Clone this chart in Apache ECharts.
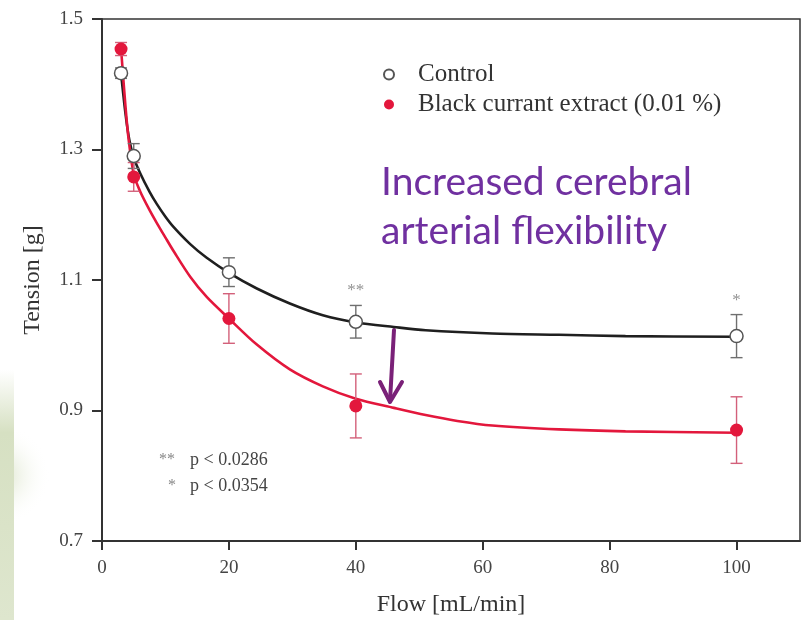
<!DOCTYPE html>
<html><head><meta charset="utf-8">
<script src="https://cdn.jsdelivr.net/npm/echarts@6/dist/echarts.min.js"></script>
<style>html,body{margin:0;padding:0;background:#fff}#c{width:804px;height:620px}</style>
</head><body><div id="c"></div>
<script>
// ---- data ----
const flow = [3, 5, 20, 40, 100];
const controlMean = [1.417, 1.290, 1.112, 1.036, 1.014];
const controlErr = [0.008, 0.019, 0.022, 0.025, 0.033];
const extractMean = [1.454, 1.258, 1.041, 0.907, 0.870];
const extractErr = [0.010, 0.022, 0.038, 0.049, 0.051];
const sigMarks = ['', '', '', '**', '*'];

const controlFitX = [3, 3.7, 4.3, 5, 6, 7.5, 8.6, 10, 11.3, 13.9, 16.5, 20, 24.4, 29.6, 34.8, 40, 46, 51, 61.5, 72, 82.5, 100];
const controlFitY = [1.417, 1.355, 1.315, 1.288, 1.264, 1.235, 1.217, 1.197, 1.181, 1.155, 1.134, 1.111, 1.087, 1.064, 1.046, 1.035, 1.028, 1.023, 1.018, 1.016, 1.014, 1.013];
const extractFitX = [3, 3.7, 4.2, 5, 6, 7.5, 8.6, 10, 11.3, 13.9, 16.5, 20, 24.4, 29.6, 34.8, 40, 46, 51, 56, 61.5, 72, 82.5, 100];
const extractFitY = [1.455, 1.366, 1.315, 1.262, 1.236, 1.207, 1.188, 1.165, 1.144, 1.105, 1.074, 1.041, 1.001, 0.963, 0.937, 0.918, 0.904, 0.893, 0.884, 0.877, 0.871, 0.868, 0.866];

const xTicks = [0, 20, 40, 60, 80, 100];
const yTicks = [0.7, 0.9, 1.1, 1.3, 1.5];

const nameControl = 'Control';
const nameExtract = 'Black currant extract (0.01 %)';
const noteLines = [['**', 'p < 0.0286'], ['*', 'p < 0.0354']];
const calloutLines = ['Increased cerebral', 'arterial flexibility'];

// ---- styles ----
const SERIF = '"Liberation Serif", "DejaVu Serif", serif';
const RED = '#e3173c';
const PURPLE = '#7030A0';

function errSeries(name, means, errs, color) {
  return {
    type: 'custom', name: name, silent: true, z: 3,
    data: flow.map((x, i) => [x, means[i] - errs[i], means[i] + errs[i]]),
    encode: { x: 0, y: [1, 2] },
    renderItem: function (params, api) {
      const x = api.value(0);
      const lo = api.coord([x, api.value(1)]);
      const hi = api.coord([x, api.value(2)]);
      const w = 6;
      const st = { stroke: color, lineWidth: 1.4 };
      return { type: 'group', children: [
        { type: 'line', shape: { x1: lo[0], y1: lo[1], x2: hi[0], y2: hi[1] }, style: st },
        { type: 'line', shape: { x1: lo[0] - w, y1: lo[1], x2: lo[0] + w, y2: lo[1] }, style: st },
        { type: 'line', shape: { x1: hi[0] - w, y1: hi[1], x2: hi[0] + w, y2: hi[1] }, style: st }
      ]};
    }
  };
}

const chart = echarts.init(document.getElementById('c'), null, { renderer: 'canvas' });

const graphics = [
  { type: 'rect', z: -10, shape: { x: 0, y: 370, width: 14, height: 250 },
    style: { fill: new echarts.graphic.LinearGradient(0, 0, 0, 1, [
      { offset: 0, color: 'rgba(214,224,194,0)' }, { offset: 0.25, color: 'rgba(214,224,194,1)' },
      { offset: 1, color: 'rgba(222,230,206,1)' }]) } },
  { type: 'circle', z: -11, shape: { cx: 0, cy: 475, r: 50 },
    style: { fill: new echarts.graphic.RadialGradient(0.5, 0.5, 0.5, [
      { offset: 0, color: 'rgba(214,224,194,0.9)' }, { offset: 1, color: 'rgba(255,255,255,0)' }]) } },
  // significance note
  { type: 'text', left: 159, top: 452, style: { text: noteLines[0][0], font: '16px ' + SERIF, fill: '#888' } },
  { type: 'text', left: 190, top: 451, style: { text: noteLines[0][1], font: '18px ' + SERIF, fill: '#444' } },
  { type: 'text', left: 168, top: 478, style: { text: noteLines[1][0], font: '16px ' + SERIF, fill: '#888' } },
  { type: 'text', left: 190, top: 477, style: { text: noteLines[1][1], font: '18px ' + SERIF, fill: '#444' } },
  // callout
  { type: 'text', left: 381, top: 163, style: { text: calloutLines[0], font: '39px Lato, "Open Sans", sans-serif', fill: PURPLE } },
  { type: 'text', left: 381, top: 212, style: { text: calloutLines[1], font: '39px Lato, "Open Sans", sans-serif', fill: PURPLE } },
  // arrow
  { type: 'group', z: 100, children: [
    { type: 'line', shape: { x1: 394, y1: 330, x2: 390, y2: 401 }, style: { stroke: '#7a2178', lineWidth: 4, lineCap: 'round' } },
    { type: 'polyline', shape: { points: [[380, 382], [390, 402], [402, 382]] }, style: { stroke: '#7a2178', lineWidth: 4, lineCap: 'round', lineJoin: 'round', fill: null } }
  ]}
];

chart.setOption({
  animation: false,
  backgroundColor: '#ffffff',
  grid: { left: 102, right: 4, top: 19, bottom: 79, outerBoundsMode: 'none', containLabel: false,
    show: true, borderColor: '#333', borderWidth: 1.5, backgroundColor: 'transparent' },
  legend: {
    data: [nameControl, nameExtract],
    orient: 'vertical', left: 378, top: 57,
    itemWidth: 48, itemHeight: 10, itemGap: 5,
    symbolKeepAspect: true,
    textStyle: { fontFamily: SERIF, fontSize: 25, color: '#333', lineHeight: 25 },
    selectedMode: false
  },
  xAxis: {
    type: 'value', min: 0, max: 110, interval: 20,
    name: 'Flow [mL/min]', nameLocation: 'middle', nameGap: 52,
    nameTextStyle: { fontFamily: SERIF, fontSize: 24, color: '#333' },
    axisLine: { show: true, lineStyle: { color: '#333', width: 2 } },
    axisTick: { show: true, inside: false, length: 9, customValues: xTicks, lineStyle: { color: '#333', width: 2 } },
    axisLabel: { customValues: xTicks, margin: 18, fontFamily: SERIF, fontSize: 19, color: '#444' },
    splitLine: { show: false }
  },
  yAxis: {
    type: 'value', min: 0.7, max: 1.5, interval: 0.2,
    name: 'Tension [g]', nameLocation: 'middle', nameGap: 57, nameRotate: 90,
    nameTextStyle: { fontFamily: SERIF, fontSize: 24, color: '#333' },
    axisLine: { show: true, lineStyle: { color: '#333', width: 2 } },
    axisTick: { show: true, inside: false, length: 10, customValues: yTicks, lineStyle: { color: '#333', width: 2 } },
    axisLabel: { customValues: yTicks, margin: 19, fontFamily: SERIF, fontSize: 19, color: '#444',
      formatter: v => Number(v).toFixed(1) },
    splitLine: { show: false }
  },
  series: [
    { type: 'line', name: 'Control fit', data: controlFitX.map((x, i) => [x, controlFitY[i]]),
      smooth: 0.3, showSymbol: false, silent: true, z: 2,
      lineStyle: { color: '#1f1f1f', width: 2.6 } },
    { type: 'line', name: 'Extract fit', data: extractFitX.map((x, i) => [x, extractFitY[i]]),
      smooth: 0.3, showSymbol: false, silent: true, z: 2,
      lineStyle: { color: RED, width: 2.6 } },
    errSeries('Control SEM', controlMean, controlErr, '#6f6f6f'),
    errSeries('Extract SEM', extractMean, extractErr, '#d3607a'),
    { type: 'scatter', name: nameControl, z: 5,
      data: flow.map((x, i) => [x, controlMean[i]]),
      symbol: 'circle', symbolSize: 13,
      itemStyle: { color: '#ffffff', borderColor: '#555', borderWidth: 1.5, opacity: 1 } },
    { type: 'scatter', name: nameExtract, z: 5,
      data: flow.map((x, i) => [x, extractMean[i]]),
      symbol: 'circle', symbolSize: 13,
      itemStyle: { color: RED, opacity: 1 } },
    { type: 'scatter', name: 'significance', z: 6, silent: true,
      data: flow.map((x, i) => ({ value: [x, controlMean[i] + controlErr[i]], mark: sigMarks[i] })).filter((d, i) => sigMarks[i]),
      symbolSize: 0,
      label: { show: true, position: 'top', distance: 6, fontFamily: SERIF, fontSize: 17, color: '#777',
        formatter: p => p.data.mark } }
  ],
  graphic: graphics
});
</script></body></html>
